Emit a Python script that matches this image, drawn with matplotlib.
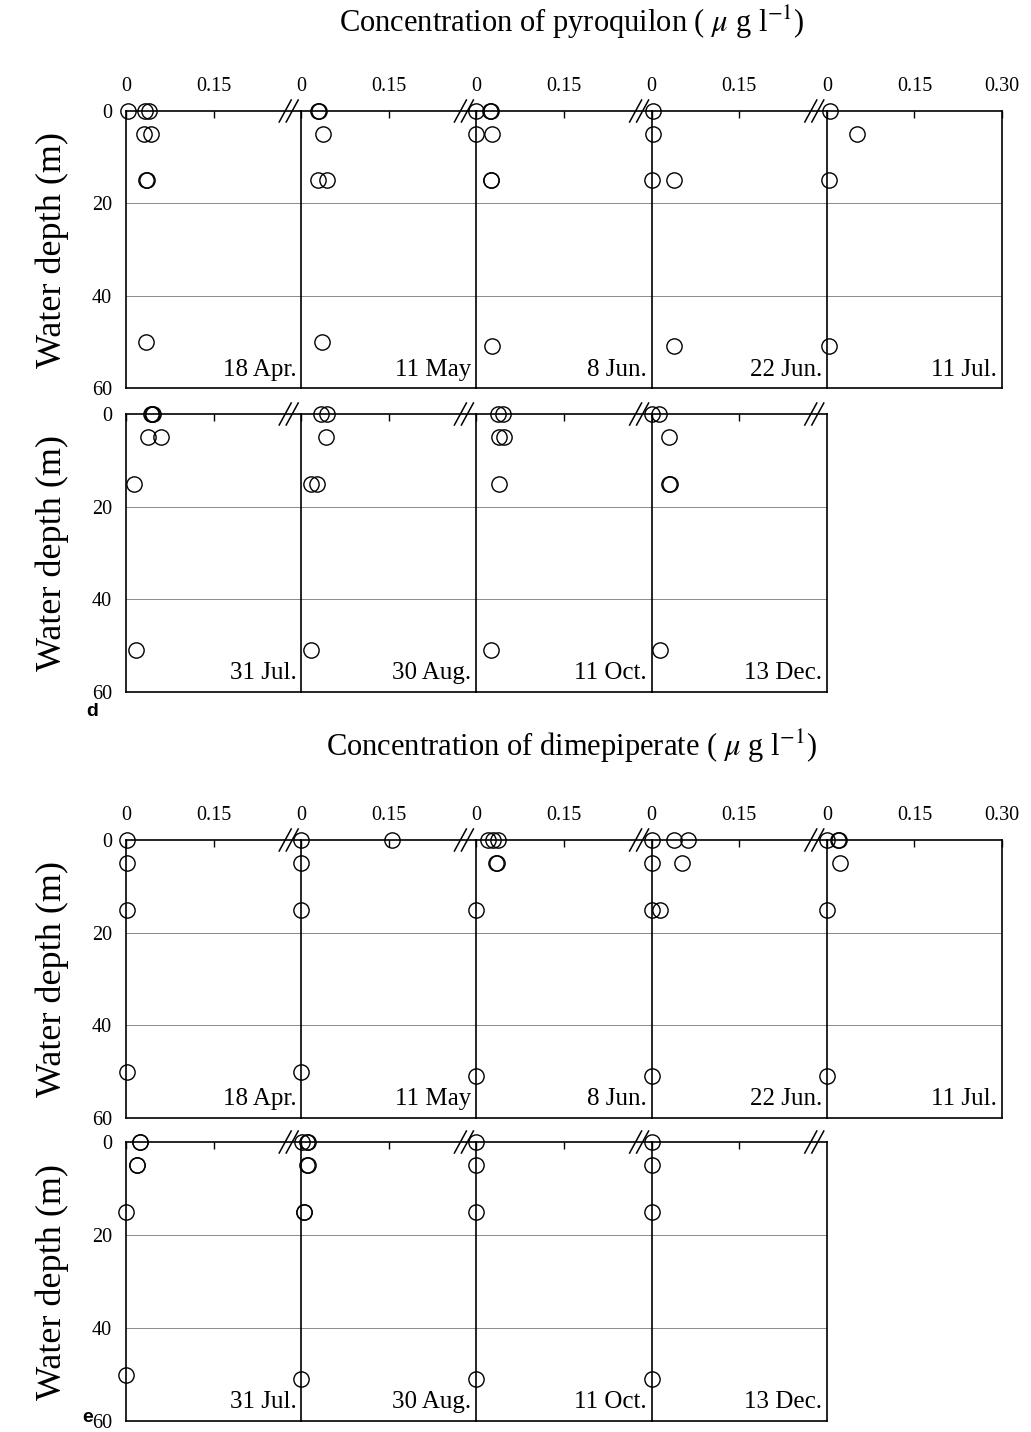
import matplotlib.pyplot as plt
from matplotlib.lines import Line2D

plt.rcParams['font.family'] = ['Liberation Serif', 'DejaVu Serif']
plt.rcParams['mathtext.fontset'] = 'stix'

# sampling dates (upper row: 5 panels, lower row: 4 panels)
DATES_TOP = ['18 Apr.', '11 May', '8 Jun.', '22 Jun.', '11 Jul.']
DATES_BOTTOM = ['31 Jul.', '30 Aug.', '11 Oct.', '13 Dec.']

# pyroquilon: water depth (m) and concentration (ug/l) for each date
PYRO_DEPTH = [
    [0, 0, 0, 5, 5, 15, 15, 50],
    [0, 0, 5, 15, 15, 50],
    [0, 0, 0, 5, 5, 15, 15, 51],
    [0, 5, 15, 15, 51],
    [0, 5, 15, 51],
    [0, 0, 0, 5, 5, 15, 51],
    [0, 0, 5, 15, 15, 51],
    [0, 0, 5, 5, 15, 51],
    [0, 0, 5, 15, 15, 51],
]
PYRO_CONC = [
    [0.003, 0.033, 0.040, 0.030, 0.042, 0.0345, 0.0355, 0.034],
    [0.0295, 0.0305, 0.037, 0.028, 0.045, 0.035],
    [0.0, 0.0235, 0.0245, 0.0, 0.027, 0.0245, 0.0255, 0.027],
    [0.002, 0.002, 0.001, 0.038, 0.038],
    [0.005, 0.052, 0.004, 0.004],
    [0.043, 0.045, 0.047, 0.038, 0.060, 0.014, 0.017],
    [0.034, 0.045, 0.043, 0.016, 0.027, 0.017],
    [0.037, 0.045, 0.038, 0.048, 0.039, 0.025],
    [0.0, 0.013, 0.029, 0.0305, 0.0315, 0.015],
]

# dimepiperate
DIME_DEPTH = [
    [0, 5, 15, 50],
    [0, 0, 5, 15, 50],
    [0, 0, 0, 5, 5, 15, 51],
    [0, 0, 0, 5, 5, 15, 15, 51],
    [0, 0, 0, 5, 15, 51],
    [0, 0, 5, 5, 15, 50],
    [0, 0, 0, 5, 5, 15, 15, 51],
    [0, 5, 15, 51],
    [0, 5, 15, 51],
]
DIME_CONC = [
    [0.001, 0.001, 0.001, 0.001],
    [0.0, 0.155, 0.0, 0.0, 0.0],
    [0.020, 0.028, 0.037, 0.0335, 0.0345, 0.0, 0.0],
    [0.0, 0.039, 0.062, 0.0, 0.052, 0.0, 0.014, 0.0],
    [0.0, 0.0195, 0.0205, 0.022, 0.0, 0.0],
    [0.0235, 0.0245, 0.0185, 0.0195, 0.0, 0.0],
    [0.002, 0.0105, 0.0115, 0.0105, 0.0115, 0.0045, 0.0055, 0.0],
    [0.0, 0.0, 0.0, 0.0],
    [0.0, 0.0, 0.0, 0.0],
]

W, H = 1031, 1432
X0, DX = 126, 175.2

fig = plt.figure(figsize=(W / 100, H / 100), dpi=100)


def fx(px):
    return px / W


def fy(py):
    return 1 - py / H


def break_mark(x, y):
    # two short slanted strokes "//" across the top axis line
    for cx in (x - 16, x - 9):
        fig.add_artist(Line2D([fx(cx - 6), fx(cx + 6)], [fy(y + 11), fy(y - 11)],
                              transform=fig.transFigure, color='black', lw=1.1))


def draw_row(y_top, y_bot, depths, concs, dates, top_row):
    n = len(dates)
    for i in range(n):
        left = X0 + i * DX
        ax = fig.add_axes([fx(left), fy(y_bot), DX / W, (y_bot - y_top) / H])
        ax.plot(concs[i], depths[i], 'o', mfc='none', mec='black', ms=11,
                mew=1.0, clip_on=False, zorder=5)
        ax.axhline(20, color='#8a8a8a', lw=0.7, zorder=0)
        ax.axhline(40, color='#8a8a8a', lw=0.7, zorder=0)
        ax.set_xlim(0, 0.30)
        ax.set_ylim(60, 0)

        last = (i == n - 1)
        if last and top_row:
            ax.set_xticks([0, 0.15, 0.30])
            ax.set_xticklabels(['0', '0.15', '0.30'])
        else:
            ax.set_xticks([0, 0.15])
            ax.set_xticklabels(['0', '0.15'])
        ax.xaxis.set_ticks_position('top')
        ax.tick_params(axis='x', direction='in', length=5, width=1.0, pad=11,
                       labelsize=14.5, labeltop=top_row, labelbottom=False)
        ax.set_yticks([0, 20, 40, 60])
        ax.tick_params(axis='y', length=0, pad=10, labelsize=14.5,
                       labelleft=(i == 0))

        for side in ['top', 'bottom', 'left', 'right']:
            ax.spines[side].set_linewidth(1.2)
        ax.spines['right'].set_visible(last)

        ax.text(0.972, 0.045, dates[i], transform=ax.transAxes,
                ha='right', va='baseline', fontsize=18)

        if i > 0:
            break_mark(left, y_top)
        if last and not top_row:
            break_mark(left + DX, y_top)

    fig.text(fx(52), fy((y_top + y_bot) / 2), 'Water depth (m)', rotation=90,
             ha='center', va='center', fontsize=26)


# panel d - pyroquilon
fig.text(fx(572), fy(22), r'Concentration of pyroquilon ( $\mu$ g l$^{-1}$)',
         ha='center', va='center', fontsize=22)
draw_row(111, 388, PYRO_DEPTH[:5], PYRO_CONC[:5], DATES_TOP, True)
draw_row(414, 692, PYRO_DEPTH[5:], PYRO_CONC[5:], DATES_BOTTOM, False)
fig.text(fx(92), fy(712), 'd', fontsize=14, fontweight='bold',
         family='Liberation Sans', ha='center', va='center')

# panel e - dimepiperate
fig.text(fx(572), fy(746), r'Concentration of dimepiperate ( $\mu$ g l$^{-1}$)',
         ha='center', va='center', fontsize=22)
draw_row(840, 1118, DIME_DEPTH[:5], DIME_CONC[:5], DATES_TOP, True)
draw_row(1142, 1421, DIME_DEPTH[5:], DIME_CONC[5:], DATES_BOTTOM, False)
fig.text(fx(88), fy(1417), 'e', fontsize=14, fontweight='bold',
         family='Liberation Sans', ha='center', va='center')

fig.savefig('out.png', dpi=100, facecolor='white')
